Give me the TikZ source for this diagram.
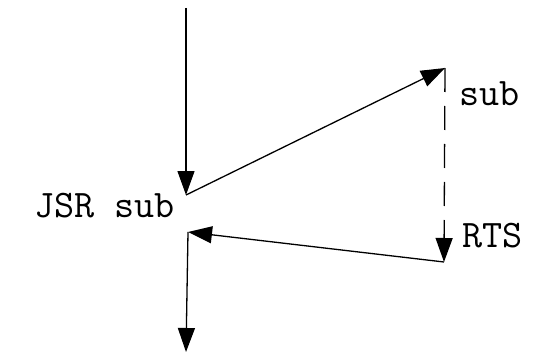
\documentclass[tikz,border=0pt]{standalone}
\usetikzlibrary{arrows.meta,positioning}

\begin{document}
\begin{tikzpicture}[
      x=0.5pt, y=-0.5pt,
      flow/.style={line width=0.65pt, -{Triangle[length=12pt,width=8.5pt]}},
      ret/.style={flow, dash pattern=on 12pt off 7pt},
      lbl/.style={inner sep=0pt, font=\fontsize{19.5}{21}\selectfont\ttfamily}
    ]
    \useasboundingbox (0,0) rectangle (535,358);
    % Points of the call and the return
    \coordinate (in)    at (186,8);
    \coordinate (call)  at (186,195);
    \coordinate (entry) at (445,68);
    \coordinate (exit)  at (444,262);
    \coordinate (back)  at (188,232);
    \coordinate (out)   at (186,352);
    % Labels
    \node[lbl, anchor=base east] (jsr) at (175,217) {JSR sub};
    \node[lbl, anchor=base west] (sub) at (459,105) {sub};
    \node[lbl, anchor=base west] (rts) at (462,247) {RTS};
    % Control flow
    \draw[flow] (in) -- (call);
    \draw[flow] (call) -- (entry);
    \draw[ret] (entry) -- (exit);
    \draw[flow] (exit) -- (back);
    \draw[flow] (back) -- (out);
  \end{tikzpicture}
\end{document}
